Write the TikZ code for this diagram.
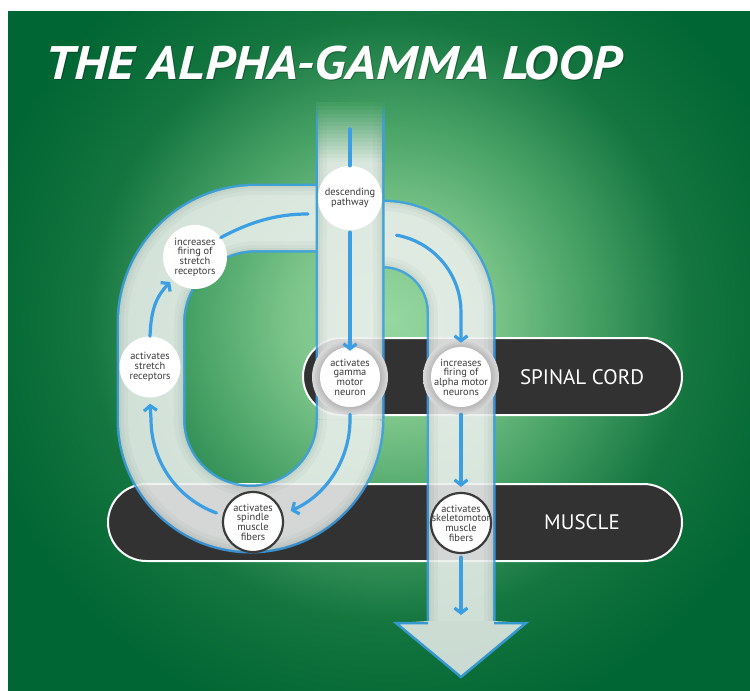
\documentclass[tikz,border=0pt]{standalone}
\usepackage{fontspec}
\setmainfont{PT Sans}
\usetikzlibrary{arrows.meta}

\definecolor{bandblue}{HTML}{3C9FE3}
\definecolor{cordgray}{HTML}{323232}
\definecolor{ink}{HTML}{3B3B3B}
\definecolor{bandA}{HTML}{D4DAD6}
\definecolor{bandB}{HTML}{DDE2DF}
\definecolor{bandC}{HTML}{E5E9E7}
\definecolor{bandD}{HTML}{EDF0EE}
% the same layers as they look over the green, for the faded entry
\definecolor{mixblue}{HTML}{3FA0D4}
\definecolor{mixA}{HTML}{C3D4C8}
\definecolor{mixB}{HTML}{CBDBD0}
\definecolor{mixC}{HTML}{D2E1D7}
\definecolor{mixD}{HTML}{D9E7DD}
\definecolor{bgtop}{HTML}{3E9B5E}
\definecolor{headfill}{HTML}{E8ECEA}
\definecolor{haloin}{HTML}{B6B6B6}
\definecolor{haloout}{HTML}{DADADA}
\definecolor{gA}{HTML}{97D7A1}
\definecolor{gB}{HTML}{7CC58A}
\definecolor{gC}{HTML}{45A064}
\definecolor{gD}{HTML}{14753F}
\definecolor{gE}{HTML}{006633}

% the visible circle of a TikZ radial shading reaches 25bp
\pgfdeclareradialshading{greenglow}{\pgfpoint{0bp}{0bp}}{color(0bp)=(gA); color(6bp)=(gB); color(12bp)=(gC); color(18bp)=(gD); color(25bp)=(gE); color(50bp)=(gE)}
\pgfdeclareradialshading{haloshade}{\pgfpoint{0bp}{0bp}}{color(0bp)=(haloin); color(19.5bp)=(haloin); color(25bp)=(haloout); color(50bp)=(haloout)}

% a translucent track: blue rim and a softly shaded interior
\newcommand\drawband[1]{%
  \draw[bandblue, line width=69pt] #1;
  \draw[bandA, line width=64pt] #1;
  \draw[bandB, line width=60pt] #1;
  \draw[bandC, line width=54pt] #1;
  \draw[bandD, line width=46pt] #1;}

\tikzset{
  bubble/.style={circle, fill=white, inner sep=0pt, minimum size=60pt},
  rimmed/.style={bubble, draw=ink, line width=2.2pt},
  halo/.style={circle, inner sep=0pt, minimum size=76pt, shading=haloshade},
  caption/.style={align=center, text=ink, inner sep=0pt, font=\fontsize{10.4}{9.7}\selectfont},
  pillbox/.style={draw=white, line width=2pt, fill=cordgray, rounded corners=38.5pt},
  pilltext/.style={text=white, font=\fontsize{21}{21}\selectfont},
  titletext/.style={anchor=base west, font=\fontsize{47}{47}\bfseries\itshape},
  flowline/.style={draw=bandblue, line width=3.2pt, line cap=round},
  flow/.style={flowline, -{Straight Barb[length=5pt,width=13pt]}},
}

\begin{document}
\begin{tikzpicture}[x=1pt,y=-1pt]
\useasboundingbox (0,0) rectangle (750,691);
\fill[white] (0,0) rectangle (750,691);

% green backdrop with a soft central glow
\begin{scope}
  \clip (8,11) rectangle (750,691);
  \fill[gE] (8,11) rectangle (750,691);
  \shade[shading=greenglow] (390,320) circle[radius=420];
\end{scope}

% title
\node[titletext, text=black, opacity=.25] (titleshadow) at (43,80) {\scalebox{1.13}[1]{THE ALPHA-GAMMA LOOP}};
\node[titletext, text=white] (title) at (42,79) {\scalebox{1.13}[1]{THE ALPHA-GAMMA LOOP}};

% spinal cord and muscle bars
\draw[pillbox] (303,338) rectangle (682,415);
\draw[pillbox] (108,484) rectangle (682,561);
\node[pilltext] (cordlabel) at (582,377) {SPINAL CORD};
\node[pilltext] (musclelabel) at (582,522) {MUSCLE};

% pathways
\begin{scope}[transparency group, opacity=.87]
  \drawband{(317,218) -- (256,218) arc[start angle=270,end angle=180,radius=105] -- (151,419.5) arc[start angle=180,end angle=0,radius=99.5]}
  \drawband{(383,234) arc[start angle=270,end angle=360,radius=78] -- (461,623)}
  \drawband{(350,161) -- (350,419.6)}
  \fill[headfill] (428,621) -- (396,623) -- (461,677) -- (526,623) -- (494,621) -- cycle;
  \draw[bandblue, line width=2.5pt, line join=miter] (428,623) -- (396,623) -- (461,677) -- (526,623) -- (494,623);
\end{scope}

% faded entry of the descending pathway, built up in thin steps
\foreach \i in {0,...,14}{
  \pgfmathsetmacro\ya{102+4*\i}
  \pgfmathsetmacro\yb{\ya+4.4}
  \pgfmathsetmacro\p{100*(\i+0.5)/15}
  \pgfmathsetmacro\q{min(100,100*(\i+0.5)/5)}
  \fill[mixblue!\q!bgtop] (315.5,\ya) rectangle (384.5,\yb);
  \fill[mixA!\p!bgtop] (318,\ya) rectangle (382,\yb);
  \fill[mixB!\p!bgtop] (320,\ya) rectangle (380,\yb);
  \fill[mixC!\p!bgtop] (323,\ya) rectangle (377,\yb);
  \fill[mixD!\p!bgtop] (327,\ya) rectangle (373,\yb);
}

% stations
\node[halo] (gammahalo) at (350,377) {};
\node[halo] (alphahalo) at (461,377) {};
\node[bubble, minimum size=64pt] (desc) at (350,198) {};
\node[bubble, minimum size=64pt] (incr) at (195,257) {};
\node[bubble, minimum size=61pt] (stretch) at (150,367) {};
\node[bubble] (gamma) at (350,377) {};
\node[bubble] (alpha) at (461,377) {};
\node[rimmed] (spindle) at (253,522) {};
\node[rimmed] (skel) at (461,523) {};

\node[caption] (desctext) at (desc) {descending\\pathway};
\node[caption] (incrtext) at (incr) {increases\\firing of\\stretch\\receptors};
\node[caption] (stretchtext) at (stretch) {activates\\stretch\\receptors};
\node[caption] (gammatext) at (gamma) {activates\\gamma\\motor\\neuron};
\node[caption] (alphatext) at (alpha) {increases\\firing of\\alpha motor\\neurons};
\node[caption] (spindletext) at (spindle) {activates\\spindle\\muscle\\fibers};
\node[caption] (skeltext) at (skel) {activates\\skeletomotor\\muscle\\fibers};

% flow arrows
\coordinate (topin) at (350,129);
\coordinate (alphastart) at (396.5,235.2);
\coordinate (spindleout) at (216.5,513);
\coordinate (loopjoin) at (308,214);
\coordinate (arrowend) at (461,615);

\draw[flowline] (topin) -- (desc.north);
\draw[flow, shorten <=2pt, shorten >=-4pt] (desc.south) -- (gamma.north);
\draw[flow] (alphastart) arc[start angle=280,end angle=360,radius=78] -- ([shift={(0,-4)}]alpha.north);
\draw[flow] ([shift={(0,7)}]gamma.south) -- (350,419.5) arc[start angle=0,end angle=66,radius=100];
\draw[flow] (spindleout) arc[start angle=110,end angle=180,radius=99.5] -- ([shift={(0,6)}]stretch.south);
\draw[flow, shorten >=3pt] (stretch.north) .. controls (151,308) and (157,296) .. (incr.225);
\draw[flowline] (incr.37) .. controls (250,222) and (276,214) .. (loopjoin);
\draw[flow] ([shift={(0,7)}]alpha.south) -- ([shift={(0,-5)}]skel.north);
\draw[flow] ([shift={(0,3)}]skel.south) -- (arrowend);
\end{tikzpicture}
\end{document}
